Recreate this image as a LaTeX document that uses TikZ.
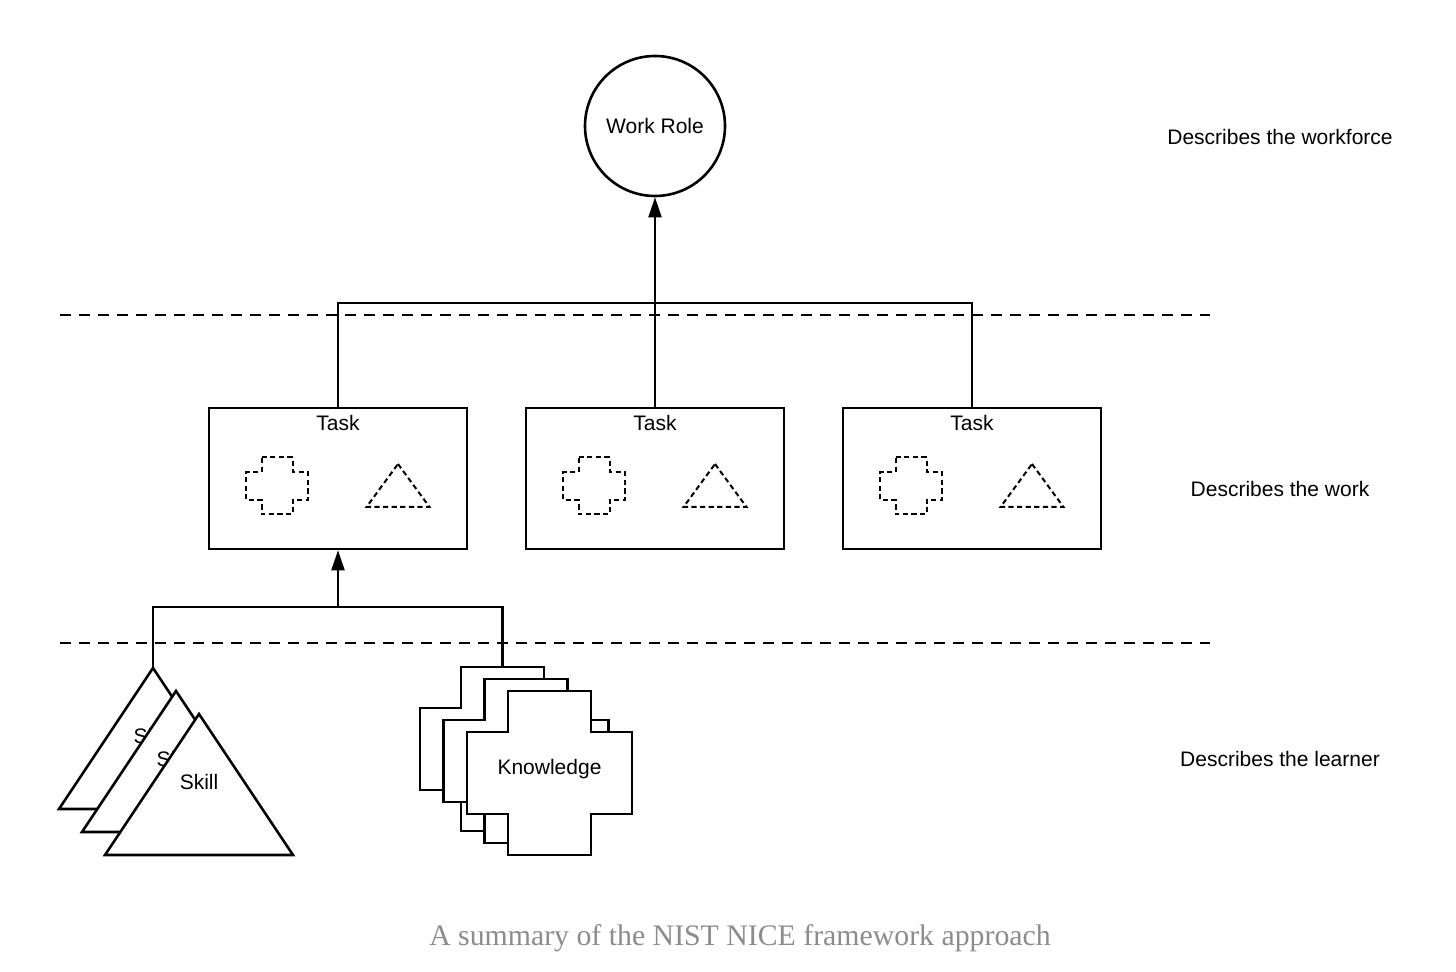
\documentclass[tikz,border=0pt]{standalone}
\usepackage{fontspec}
\setmainfont{Liberation Sans}
\newfontfamily\captionfont{Liberation Serif}
\usetikzlibrary{positioning,arrows.meta}
\definecolor{captiongray}{HTML}{8C8C8C}

% outline of a plus shape around the origin: half width, half height, arm half width, arm half height
\newcommand{\crosspath}[4]{(-#3,-#2) -- (#3,-#2) -- (#3,-#4) -- (#1,-#4) -- (#1,#4) -- (#3,#4) -- (#3,#2) -- (-#3,#2) -- (-#3,#4) -- (-#1,#4) -- (-#1,-#4) -- (-#3,-#4) -- cycle}

\tikzset{
  shapebox/.style={draw, line width=1.3pt, fill=white},
  taskbox/.style={shapebox, minimum width=129pt, minimum height=70.5pt, inner sep=0pt},
  rolecircle/.style={shapebox, circle, minimum size=70pt, inner sep=0pt},
  link/.style={line width=1.1pt},
  uparrow/.style={link, -{Triangle[length=10pt,width=6.5pt]}},
  layerline/.style={line width=1pt, dash pattern=on 5.5pt off 4pt},
  dashicon/.style={line width=1pt, dash pattern=on 2.6pt off 1.7pt},
  desctext/.style={font=\fontsize{10.5}{12}\selectfont},
}

\begin{document}
\begin{tikzpicture}[x=0.5pt, y=-0.5pt]
  \fill[white] (0,0) rectangle (1456,972);
  \useasboundingbox (0,0) rectangle (1456,972);

  % layers
  \draw[layerline] (60,315) -- (1210,315);
  \draw[layerline] (60,643) -- (1210,643);

  \node[rolecircle, desctext] (role) at (655,126) {Work Role};

  \node[taskbox] (task1) at (338,478.5) {};
  \node[taskbox] (task2) at (655,478.5) {};
  \node[taskbox] (task3) at (972,478.5) {};

  \foreach \t in {task1,task2,task3}{
    \node[desctext, below=1pt of \t.north] (\t label) {Task};
    \begin{scope}[shift={(\t.center)}]
      \draw[dashicon, shift={(-61,7.5)}] \crosspath{31}{28.5}{15.5}{14};
      \draw[dashicon] (60,-14.5) -- (91.5,28.5) -- (28.5,28.5) -- cycle;
    \end{scope}
  }

  % skills
  \foreach \i/\x/\y in {1/153/668, 2/176/691, 3/199/714}{
    \draw[shapebox] (\x,\y) coordinate (skilltop\i) -- ++(94,141) -- ++(-188,0) -- cycle;
    \node[desctext] (skill\i) at (\x,\y+68) {Skill};
  }

  % knowledge
  \foreach \i/\x/\y in {1/502.5/749, 2/526/761, 3/549.5/773}{
    \draw[shapebox, shift={(\x,\y)}] \crosspath{82.5}{82}{41.5}{41};
    \coordinate (knowtop\i) at (\x,\y-82);
  }
  \node[desctext] (know) at (549.5,769) {Knowledge};

  % connectors
  \coordinate (hub) at (655,303);
  \coordinate (join) at (338,607);
  \draw[link] (task1.north) |- (hub) -| (task3.north);
  \draw[uparrow] (task2.north) -- (role);
  \draw[link] (skilltop1) |- (join) -| (knowtop1);
  \draw[uparrow] (join) -- (task1.south);

  \node[desctext] (desc1) at (1280,137) {Describes the workforce};
  \node[desctext] (desc2) at (1280,489) {Describes the work};
  \node[desctext] (desc3) at (1280,759) {Describes the learner};

  \node[font=\captionfont\fontsize{14.9}{18}\selectfont, text=captiongray] (caption) at (740,938) {A summary of the NIST NICE framework approach};
\end{tikzpicture}
\end{document}
